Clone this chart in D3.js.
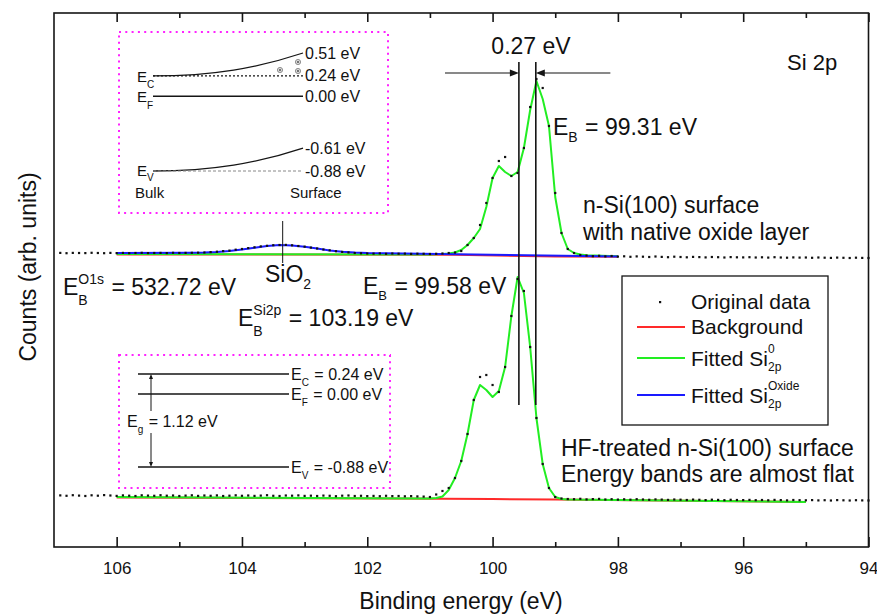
<!DOCTYPE html>
<html lang="en">
<head>
<meta charset="utf-8">
<title>Si 2p XPS spectra</title>
<script src="https://cdn.jsdelivr.net/npm/d3@7"></script>
<style>
  body { margin: 0; background: #fff; }
  svg { display: block; font-family: "Liberation Sans", Arial, sans-serif; }
  text { fill: #111; }
</style>
</head>
<body>
<script>
// binding energy grid of the measured points (eV)
const energy = [
  106.9, 106.8, 106.7, 106.6, 106.5, 106.4, 106.3, 106.2, 106.1, 106.0,
  105.9, 105.8, 105.7, 105.6, 105.5, 105.4, 105.3, 105.2, 105.1, 105.0,
  104.9, 104.8, 104.7, 104.6, 104.5, 104.4, 104.3, 104.2, 104.1, 104.0,
  103.9, 103.8, 103.7, 103.6, 103.5, 103.4, 103.3, 103.2, 103.1, 103.0,
  102.9, 102.8, 102.7, 102.6, 102.5, 102.4, 102.3, 102.2, 102.1, 102.0,
  101.9, 101.8, 101.7, 101.6, 101.5, 101.4, 101.3, 101.2, 101.1, 101.0,
  100.9, 100.8, 100.7, 100.6, 100.5, 100.4, 100.3, 100.2, 100.1, 100.0,
  99.9, 99.8, 99.7, 99.6, 99.5, 99.4, 99.3, 99.2, 99.1, 99.0,
  98.9, 98.8, 98.7, 98.6, 98.5, 98.4, 98.3, 98.2, 98.1, 98.0,
  97.9, 97.8, 97.7, 97.6, 97.5, 97.4, 97.3, 97.2, 97.1, 97.0,
  96.9, 96.8, 96.7, 96.6, 96.5, 96.4, 96.3, 96.2, 96.1, 96.0,
  95.9, 95.8, 95.7, 95.6, 95.5, 95.4, 95.3, 95.2, 95.1, 95.0,
  94.9, 94.8, 94.7, 94.6, 94.5, 94.4, 94.3, 94.2, 94.1, 94.0
];

// n-Si(100) with native oxide (offset upwards)
const upperCounts = [
  294.1, 293.8, 294.1, 294.0, 293.9, 294.2, 294.0, 293.8, 294.1, 293.9,
  294.1, 293.8, 294.0, 294.2, 293.9, 294.0, 294.1, 293.9, 294.2, 294.0,
  294.1, 294.2, 294.3, 294.5, 294.9, 295.3, 295.9, 296.4, 297.3, 298.0,
  298.9, 299.7, 300.6, 301.2, 301.8, 302.0, 302.1, 301.7, 301.0, 300.3,
  299.4, 298.5, 297.5, 296.7, 295.8, 295.1, 294.6, 294.0, 293.7, 293.5,
  293.4, 293.6, 293.2, 293.5, 293.3, 293.4, 293.1, 293.3, 293.2, 293.0,
  293.2, 293.5, 294.0, 294.5, 296.0, 302.0, 309.0, 322.0, 344.0, 369.0,
  386.0, 390.0, 371.0, 374.0, 399.0, 440.0, 468.0, 459.0, 421.0, 354.0,
  314.0, 298.0, 294.0, 292.0, 291.5, 290.8, 291.2, 290.6, 291.0, 290.4,
  290.7, 290.2, 290.6, 290.3, 290.0, 290.5, 290.1, 289.8, 290.3, 290.0,
  289.7, 290.1, 289.9, 289.6, 290.0, 289.8, 289.5, 289.9, 289.7, 289.6,
  289.8, 289.5, 289.7, 289.4, 289.8, 289.5, 289.3, 289.6, 289.4, 289.5,
  289.2, 289.5, 289.3, 289.1, 289.4, 289.2, 289.0, 289.3, 289.1, 289.0
];

// HF-treated n-Si(100)
const lowerCounts = [
  51.6, 51.2, 51.8, 51.4, 51.0, 51.7, 51.3, 51.9, 51.5, 51.1,
  51.6, 51.3, 51.0, 51.7, 51.4, 51.2, 51.8, 51.3, 51.5, 51.0,
  51.4, 51.7, 51.1, 51.5, 51.2, 51.6, 51.0, 51.3, 51.7, 51.2,
  51.5, 51.1, 51.4, 51.8, 51.2, 51.0, 51.5, 51.3, 51.6, 51.1,
  51.3, 51.0, 51.4, 51.2, 50.8, 51.3, 51.5, 51.0, 51.2, 50.9,
  51.1, 50.8, 51.2, 50.9, 51.0, 50.7, 50.9, 50.6, 50.4, 50.0,
  52.5, 56.0, 59.0, 69.0, 86.0, 113.0, 147.0, 170.0, 172.0, 162.0,
  155.0, 180.0, 231.0, 268.0, 256.0, 200.0, 129.0, 83.0, 59.0, 50.0,
  48.5, 48.0, 47.8, 48.2, 47.6, 47.9, 48.1, 47.5, 47.8, 47.4,
  47.7, 47.3, 47.8, 47.5, 47.2, 47.6, 47.4, 47.1, 47.5, 47.3,
  47.0, 47.4, 47.2, 46.9, 47.3, 47.1, 46.8, 47.2, 47.0, 46.9,
  47.1, 46.8, 47.0, 46.7, 47.1, 46.9, 46.6, 47.0, 46.8, 46.7,
  46.9, 46.6, 46.8, 46.5, 46.9, 46.7, 46.5, 46.8, 46.6, 46.5
];

// fitted curves
const upperFitE = [106.0, 101.0, 100.8, 100.7, 100.6, 100.5, 100.4, 100.3, 100.2, 100.1, 100.0,
  99.9, 99.8, 99.7, 99.6, 99.5, 99.4, 99.3, 99.2, 99.1, 99.0, 98.9, 98.8, 98.7, 98.6, 98.5, 98.0];
const upperSi0 = [293.0, 292.5, 293.0, 293.6, 294.5, 297.0, 302.0, 309.0, 318.0, 340.0, 369.0,
  381.0, 375.0, 371.0, 375.0, 399.0, 437.0, 466.0, 448.0, 421.0, 350.0, 314.0, 298.0, 294.0, 292.5, 291.8, 290.8];
const upperOxE = [106.0, 104.8, 104.6, 104.4, 104.2, 104.0, 103.8, 103.6, 103.4, 103.2, 103.0,
  102.8, 102.6, 102.4, 102.2, 102.0, 98.0];
const upperOxide = [294.0, 294.2, 294.4, 294.9, 295.9, 297.4, 299.3, 301.0, 302.0, 301.6, 300.3,
  298.4, 296.6, 295.3, 294.5, 294.0, 290.5];
const upperBgE = [106.0, 100.6, 99.0, 98.0];
const upperBg = [292.5, 292.2, 290.6, 290.3];

const lowerFitE = [106.0, 101.0, 100.9, 100.8, 100.7, 100.6, 100.5, 100.4, 100.3, 100.2, 100.1, 100.0,
  99.9, 99.8, 99.7, 99.6, 99.5, 99.4, 99.3, 99.2, 99.1, 99.0, 98.9, 98.8, 95.0];
const lowerSi0 = [50.0, 48.5, 49.0, 50.5, 57.0, 69.0, 86.0, 113.0, 147.0, 162.0, 157.0, 150.0,
  156.0, 180.0, 231.0, 270.0, 254.0, 200.0, 129.0, 83.0, 59.0, 50.0, 48.0, 47.5, 45.0];
const lowerBgE = [106.0, 100.8, 100.0, 99.0, 95.0];
const lowerBg = [49.5, 48.3, 48.0, 47.4, 45.0];

const majorTicks = [106, 104, 102, 100, 98, 96, 94];
const minorTicks = [105, 103, 101, 99, 97, 95];
const peakMarks = [99.58, 99.31];
const oxidePeak = 103.35;

// band diagram insets (eV)
const bentLevels = [0.51, 0.24, 0.00, -0.61, -0.88];
const bentLabels = ["0.51 eV", "0.24 eV", "0.00 eV", "-0.61 eV", "-0.88 eV"];
const flatLevels = [0.24, 0.00, -0.88];
const flatNames = ["C", "F", "V"];
const flatLabels = [" = 0.24 eV", " = 0.00 eV", " = -0.88 eV"];

const colors = { bg: "#ff2a2a", si0: "#22ee22", oxide: "#1a1aff", ink: "#151515", magenta: "#ff22ff" };

const W = 877, H = 614;
const svg = d3.select("body").append("svg").attr("width", W).attr("height", H);

const x = d3.scaleLinear().domain([107, 94]).range([54, 868.5]);
const y = d3.scaleLinear().domain([0, 534]).range([547, 13]);

// helper: text with sub / superscripts
function rich(g, x0, y0, parts, size) {
  let cx = x0;
  const small = Math.round(size * 0.62);
  parts.forEach(p => {
    if (typeof p === "string") {
      const t = g.append("text").attr("x", cx).attr("y", y0).attr("font-size", size)
        .text(p.replace(/ /g, "\u00a0"));
      cx += t.node().getComputedTextLength();
    } else {
      let w = 0;
      const fs = p.size || small;
      if (p.sup) {
        const t = g.append("text").attr("x", cx).attr("y", y0 + size * (p.supDy ?? -0.5))
          .attr("font-size", fs).text(p.sup);
        w = Math.max(w, t.node().getComputedTextLength());
      }
      if (p.sub) {
        const t = g.append("text").attr("x", cx).attr("y", y0 + size * (p.subDy ?? (p.sup ? 0.45 : 0.32)))
          .attr("font-size", fs).text(p.sub);
        w = Math.max(w, t.node().getComputedTextLength());
      }
      cx += w + 1;
    }
  });
  return cx;
}

// axes: inward ticks on bottom and top
const axB = svg.append("g").attr("transform", `translate(0,${y(0)})`)
  .call(d3.axisBottom(x).tickValues(majorTicks).tickSizeInner(-10).tickSizeOuter(0).tickPadding(15).tickFormat(d3.format("d")));
svg.append("g").attr("transform", `translate(0,${y(0)})`)
  .call(d3.axisBottom(x).tickValues(minorTicks).tickSizeInner(-5).tickSizeOuter(0).tickFormat(""));
svg.append("g").attr("transform", `translate(0,${y(534)})`)
  .call(d3.axisTop(x).tickValues(majorTicks).tickSizeInner(-9).tickSizeOuter(0).tickFormat(""));
svg.append("g").attr("transform", `translate(0,${y(534)})`)
  .call(d3.axisTop(x).tickValues(minorTicks).tickSizeInner(-5).tickSizeOuter(0).tickFormat(""));
svg.selectAll(".domain").remove();
svg.selectAll(".tick line").attr("stroke", colors.ink).attr("stroke-width", 1.6);
axB.selectAll("text").attr("font-size", 17).attr("font-family", "Liberation Sans, Arial, sans-serif").attr("fill", "#222");

svg.append("rect").attr("x", x(107)).attr("y", y(534))
  .attr("width", x(94) - x(107)).attr("height", y(0) - y(534))
  .attr("fill", "none").attr("stroke", colors.ink).attr("stroke-width", 1.6);

svg.append("text").attr("x", 461).attr("y", 609).attr("text-anchor", "middle")
  .attr("font-size", 23).text("Binding energy (eV)");
svg.append("text").attr("transform", "translate(36,267) rotate(-90)").attr("text-anchor", "middle")
  .attr("font-size", 23).text("Counts (arb. units)");

// curves
const line = d3.line().x(d => x(d[0])).y(d => y(d[1]));
const plot = svg.append("g");
function curve(es, vs, col) {
  plot.append("path").datum(d3.zip(es, vs)).attr("d", line)
    .attr("fill", "none").attr("stroke", col).attr("stroke-width", 2).attr("stroke-linejoin", "round");
}
curve(upperBgE, upperBg, colors.bg);
curve(upperFitE, upperSi0, colors.si0);
curve(upperOxE, upperOxide, colors.oxide);
curve(lowerBgE, lowerBg, colors.bg);
curve(lowerFitE, lowerSi0, colors.si0);

[upperCounts, lowerCounts].forEach(series => {
  plot.append("g").selectAll("rect").data(d3.zip(energy, series)).join("rect")
    .attr("x", d => x(d[0]) - 1.1).attr("y", d => y(d[1]) - 1.1)
    .attr("width", 2.2).attr("height", 2.2).attr("fill", "#111");
});

// peak position markers and 0.27 eV shift
const ann = svg.append("g");
peakMarks.forEach(e => {
  ann.append("line").attr("x1", x(e)).attr("x2", x(e)).attr("y1", y(485)).attr("y2", y(142))
    .attr("stroke", colors.ink).attr("stroke-width", 1.6);
});
const arrowV = 474;
function hArrow(from, to) {
  const ty = y(arrowV), tx = x(to), dir = Math.sign(x(to) - x(from));
  ann.append("line").attr("x1", x(from)).attr("x2", tx - dir * 4).attr("y1", ty).attr("y2", ty)
    .attr("stroke", colors.ink).attr("stroke-width", 1.2);
  ann.append("path").attr("d", `M${tx},${ty}L${tx - dir * 9},${ty - 3.5}L${tx - dir * 9},${ty + 3.5}Z`)
    .attr("fill", colors.ink);
}
hArrow(100.76, peakMarks[0]);
hArrow(98.12, peakMarks[1]);
ann.append("text").attr("x", 531).attr("y", 54).attr("text-anchor", "middle").attr("font-size", 23).text("0.27 eV");

ann.append("line").attr("x1", x(oxidePeak)).attr("x2", x(oxidePeak)).attr("y1", y(326)).attr("y2", y(284))
  .attr("stroke", colors.ink).attr("stroke-width", 1);

const fsA = 23;
rich(ann, 787, 70, ["Si 2p"], 22);
rich(ann, 553, 135, ["E", { sub: "B" }, " = 99.31 eV"], fsA);
rich(ann, 583, 213, ["n-Si(100) surface"], fsA);
rich(ann, 583, 240, ["with native oxide layer"], fsA);
rich(ann, 63, 295, ["E", { sup: "O1s", sub: "B" }, " = 532.72 eV"], fsA);
rich(ann, 265, 282, ["SiO", { sub: "2" }], fsA);
rich(ann, 363, 294, ["E", { sub: "B", size: 13, subDy: 0.28 }, " = 99.58 eV"], fsA);
rich(ann, 238, 326, ["E", { sup: "Si2p", sub: "B" }, " = 103.19 eV"], fsA);
rich(ann, 561, 456, ["HF-treated n-Si(100) surface"], fsA);
rich(ann, 561, 482, ["Energy bands are almost flat"], fsA);

// legend
const lg = svg.append("g");
lg.append("rect").attr("x", 622).attr("y", 276).attr("width", 206).attr("height", 149)
  .attr("fill", "#fff").attr("stroke", colors.ink).attr("stroke-width", 1.3);
lg.append("rect").attr("x", 659).attr("y", 301).attr("width", 2.2).attr("height", 2.2).attr("fill", "#111");
[[327, colors.bg], [358, colors.si0], [395, colors.oxide]].forEach(([ly, c]) => {
  lg.append("line").attr("x1", 637).attr("x2", 685).attr("y1", ly).attr("y2", ly)
    .attr("stroke", c).attr("stroke-width", 2);
});
rich(lg, 691, 309, ["Original data"], 21);
rich(lg, 691, 334, ["Background"], 21);
rich(lg, 691, 366, ["Fitted Si", { sup: "0", sub: "2p", supDy: -0.62, subDy: 0.25, size: 12 }], 21);
rich(lg, 691, 403, ["Fitted Si", { sup: "Oxide", sub: "2p", supDy: -0.62, subDy: 0.25, size: 12 }], 21);

// inset 1: band bending with native oxide
const in1 = svg.append("g");
const ey1 = d3.scaleLinear().domain([0.51, -0.88]).range([53, 171]);
const bx0 = 153, bx1 = 303;
in1.append("rect").attr("x", 119).attr("y", 32).attr("width", 269).attr("height", 181)
  .attr("fill", "none").attr("stroke", colors.magenta).attr("stroke-width", 2).attr("stroke-dasharray", "2,4.3");
function bent(lo, hi) {
  return `M${bx0},${ey1(lo)}C${bx0 + 60},${ey1(lo)} ${bx0 + 105},${ey1(lo) - 8} ${bx1},${ey1(hi)}`;
}
in1.append("path").attr("d", bent(bentLevels[1], bentLevels[0])).attr("fill", "none").attr("stroke", colors.ink).attr("stroke-width", 1.3);
in1.append("path").attr("d", bent(bentLevels[4], bentLevels[3])).attr("fill", "none").attr("stroke", colors.ink).attr("stroke-width", 1.3);
in1.append("line").attr("x1", bx0).attr("x2", bx1).attr("y1", ey1(bentLevels[1])).attr("y2", ey1(bentLevels[1]))
  .attr("stroke", colors.ink).attr("stroke-width", 1.2).attr("stroke-dasharray", "2,2");
in1.append("line").attr("x1", bx0).attr("x2", bx1).attr("y1", ey1(bentLevels[2])).attr("y2", ey1(bentLevels[2]))
  .attr("stroke", colors.ink).attr("stroke-width", 1.4);
in1.append("line").attr("x1", bx0).attr("x2", bx1).attr("y1", ey1(bentLevels[4])).attr("y2", ey1(bentLevels[4]))
  .attr("stroke", "#888").attr("stroke-width", 1).attr("stroke-dasharray", "3,2");
bentLevels.forEach((v, i) => {
  in1.append("text").attr("x", 305).attr("y", ey1(v) + 5.5).attr("font-size", 16).text(bentLabels[i]);
});
rich(in1, 137, ey1(0.24) + 6, ["E", { sub: "C", size: 10, subDy: 0.42 }], 15);
rich(in1, 137, ey1(0.00) + 6, ["E", { sub: "F", size: 10, subDy: 0.42 }], 15);
rich(in1, 137, ey1(-0.88) + 5, ["E", { sub: "V", size: 10, subDy: 0.36 }], 15);
in1.append("text").attr("x", 135).attr("y", 198).attr("font-size", 15).text("Bulk");
in1.append("text").attr("x", 290).attr("y", 198).attr("font-size", 15).text("Surface");
[[280, 70], [298, 62], [298, 71]].forEach(([cx, cy]) => {
  in1.append("circle").attr("cx", cx).attr("cy", cy).attr("r", 2.6).attr("fill", "#ddd").attr("stroke", "#777").attr("stroke-width", 0.8);
  in1.append("circle").attr("cx", cx).attr("cy", cy).attr("r", 0.9).attr("fill", "#444");
});

// inset 2: flat bands
const in2 = svg.append("g");
const ey2 = d3.scaleLinear().domain([0.24, -0.88]).range([374, 467]);
in2.append("rect").attr("x", 119).attr("y", 355).attr("width", 271).attr("height", 133)
  .attr("fill", "none").attr("stroke", colors.magenta).attr("stroke-width", 2).attr("stroke-dasharray", "2,4.3");
flatLevels.forEach((v, i) => {
  in2.append("line").attr("x1", 138).attr("x2", 289).attr("y1", ey2(v)).attr("y2", ey2(v))
    .attr("stroke", colors.ink).attr("stroke-width", 1.4);
  rich(in2, 291, ey2(v) + 6, ["E", { sub: flatNames[i], size: 10, subDy: 0.4 }, flatLabels[i]], 16);
});
const gx = 151;
in2.append("line").attr("x1", gx).attr("x2", gx).attr("y1", ey2(0.24) + 3).attr("y2", ey2(-0.88) - 3)
  .attr("stroke", colors.ink).attr("stroke-width", 1);
in2.append("path").attr("d", `M${gx},${ey2(0.24)}l-2,5h4Z M${gx},${ey2(-0.88)}l-2,-5h4Z`).attr("fill", colors.ink);
in2.append("rect").attr("x", 127).attr("y", 411).attr("width", 90).attr("height", 22).attr("fill", "#fff");
rich(in2, 127, 427, ["E", { sub: "g", size: 10, subDy: 0.4 }, " = 1.12 eV"], 16);
</script>
</body>
</html>
